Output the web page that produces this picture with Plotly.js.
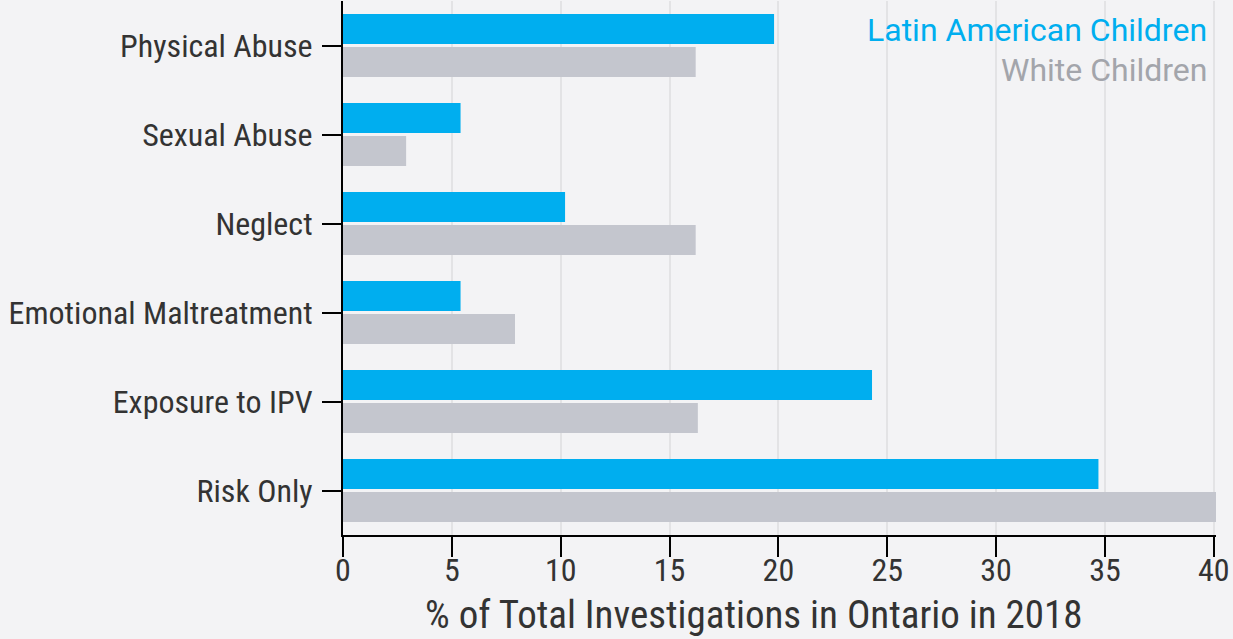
<!DOCTYPE html>
<html>
<head>
<meta charset="utf-8">
<script src="https://cdn.plot.ly/plotly-3.0.1.min.js"></script>
<style>html,body{margin:0;padding:0;background:#f3f3f5;}#chart{width:1233px;height:639px;}</style>
</head>
<body>
<div id="chart"></div>
<script>
var categories = ["Physical Abuse", "Sexual Abuse", "Neglect", "Emotional Maltreatment", "Exposure to IPV", "Risk Only"];
var seriesNames = ["Latin American Children", "White Children"];
var latinValues = [19.8, 5.4, 10.2, 5.4, 24.3, 34.7];
var whiteValues = [16.2, 2.9, 16.2, 7.9, 16.3, 40.1];
var xTickValues = [0, 5, 10, 15, 20, 25, 30, 35, 40];
var xTitle = "% of Total Investigations in Ontario in 2018";

var condensed = "Roboto Condensed, Liberation Sans Narrow, Roboto, sans-serif";
var colors = ["#00aeef", "#c4c6ce"];
var legendColors = ["#00aeef", "#a3a5ab"];

var traces = [
  {type: "bar", orientation: "h", name: seriesNames[0], y: categories, x: latinValues, marker: {color: colors[0]}, hoverinfo: "x+y"},
  {type: "bar", orientation: "h", name: seriesNames[1], y: categories, x: whiteValues, marker: {color: colors[1]}, hoverinfo: "x+y"}
];

var layout = {
  width: 1233, height: 639,
  paper_bgcolor: "#f3f3f5", plot_bgcolor: "#f3f3f5",
  margin: {l: 343, r: 17, t: 1, b: 104, pad: 0},
  barmode: "group", bargap: 0.257, bargroupgap: 0.09,
  showlegend: false,
  font: {family: condensed, color: "#333333", size: 32},
  xaxis: {
    range: [0, 40.1], tickvals: xTickValues, ticktext: xTickValues.map(String),
    showgrid: true, gridcolor: "#e3e3e5", gridwidth: 2,
    zeroline: false, showline: true, linecolor: "#000", linewidth: 2,
    ticks: "outside", ticklen: 20, tickwidth: 2, tickcolor: "#000",
    tickfont: {family: condensed, size: 32, color: "#333"},
    ticklabelstandoff: -14
  },
  yaxis: {
    autorange: "reversed", showgrid: false, zeroline: false,
    showline: true, linecolor: "#000", linewidth: 2,
    ticks: "outside", ticklen: 19, tickwidth: 2, tickcolor: "#000",
    tickfont: {family: condensed, size: 32, color: "#333"},
    ticklabelstandoff: 3
  },
  annotations: [
    {xref: "paper", yref: "paper", x: 0.992, y: 0.945, xanchor: "right", yanchor: "middle", showarrow: false,
     text: seriesNames[0], font: {family: "Roboto, sans-serif", size: 32, color: legendColors[0]}},
    {xref: "paper", yref: "paper", x: 0.992, y: 0.87, xanchor: "right", yanchor: "middle", showarrow: false,
     text: seriesNames[1], font: {family: "Roboto, sans-serif", size: 32, color: legendColors[1]}},
    {xref: "paper", yref: "paper", x: 0.471, y: -0.149, xanchor: "center", yanchor: "middle", showarrow: false,
     text: xTitle, font: {family: condensed, size: 39, color: "#333"}, borderpad: 0}
  ]
};

Plotly.newPlot("chart", traces, layout, {displayModeBar: false, staticPlot: true});
</script>
</body>
</html>
